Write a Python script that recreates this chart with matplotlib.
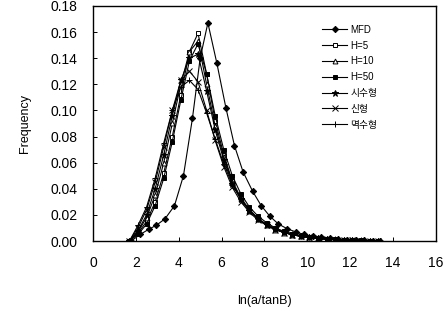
import matplotlib
matplotlib.use("Agg")
import matplotlib.pyplot as plt

plt.rcParams['font.family'] = ['Liberation Sans', 'Noto Sans CJK KR', 'DejaVu Sans']

# MFD has its own bin positions
x_mfd = [1.78, 2.2, 2.6, 2.95, 3.36, 3.8, 4.22, 4.64, 5.0, 5.36, 5.78, 6.2, 6.6, 7.0,
         7.45, 7.85, 8.25, 8.65, 9.05, 9.45, 9.85, 10.25, 10.65, 11.05, 11.45, 11.85,
         12.25, 12.65, 13.05, 13.4]
y_mfd = [0.0, 0.005, 0.009, 0.012, 0.017, 0.027, 0.050, 0.094, 0.140, 0.167, 0.136,
         0.102, 0.073, 0.053, 0.038, 0.027, 0.019, 0.013, 0.0095, 0.007, 0.005, 0.0037,
         0.0027, 0.002, 0.0015, 0.0011, 0.0008, 0.0006, 0.0004, 0.0003]

# shared bins for the other methods
x_bins = [1.7, 2.1, 2.5, 2.9, 3.3, 3.7, 4.1, 4.5, 4.9, 5.3, 5.7, 6.1, 6.5, 6.9, 7.3,
          7.7, 8.1, 8.5, 8.9, 9.3, 9.7, 10.1, 10.5, 10.9, 11.3, 11.7, 12.1, 12.5,
          12.9, 13.3]
y_h5 = [0.0, 0.006, 0.015, 0.030, 0.052, 0.080, 0.112, 0.145, 0.159, 0.128, 0.092,
        0.066, 0.046, 0.033, 0.024, 0.017, 0.012, 0.009, 0.0065, 0.005, 0.0037, 0.0028,
        0.002, 0.0015, 0.0011, 0.0008, 0.0006, 0.0004, 0.0003, 0.0002]
y_h10 = [0.0, 0.007, 0.018, 0.035, 0.060, 0.090, 0.120, 0.145, 0.153, 0.120, 0.088,
         0.064, 0.045, 0.032, 0.023, 0.017, 0.012, 0.0088, 0.0065, 0.0048, 0.0036,
         0.0027, 0.002, 0.0015, 0.0011, 0.0008, 0.0006, 0.0004, 0.0003, 0.0002]
y_h50 = [0.0, 0.005, 0.013, 0.027, 0.048, 0.076, 0.108, 0.138, 0.151, 0.128, 0.096,
         0.070, 0.050, 0.036, 0.026, 0.019, 0.014, 0.010, 0.0075, 0.0055, 0.004,
         0.003, 0.0022, 0.0016, 0.0012, 0.0009, 0.0007, 0.0005, 0.0004, 0.0003]
y_exp = [0.0, 0.008, 0.020, 0.040, 0.066, 0.096, 0.123, 0.140, 0.143, 0.115, 0.085,
         0.062, 0.044, 0.032, 0.023, 0.017, 0.012, 0.009, 0.0066, 0.0049, 0.0036,
         0.0027, 0.002, 0.0015, 0.0011, 0.0008, 0.0006, 0.0004, 0.0003, 0.0002]
y_lin = [0.0, 0.010, 0.024, 0.045, 0.072, 0.100, 0.123, 0.130, 0.122, 0.100, 0.077,
         0.057, 0.041, 0.030, 0.022, 0.016, 0.012, 0.0088, 0.0065, 0.0048, 0.0036,
         0.0027, 0.002, 0.0015, 0.0011, 0.0008, 0.0006, 0.0004, 0.0003, 0.0002]
y_pow = [0.0, 0.012, 0.026, 0.048, 0.075, 0.100, 0.118, 0.123, 0.116, 0.098, 0.078,
         0.059, 0.043, 0.032, 0.024, 0.017, 0.013, 0.0095, 0.007, 0.0052, 0.0039,
         0.0029, 0.0021, 0.0016, 0.0012, 0.0009, 0.0007, 0.0005, 0.0004, 0.0003]

labels = ['MFD', 'H=5', 'H=10', 'H=50', '시수형', '신형', '멱수형']

fig = plt.figure(figsize=(4.46, 3.11), dpi=100)
ax = fig.add_axes([0.2085, 0.225, 0.769, 0.756])

series = [
    (x_mfd, y_mfd, 'D', 'black', 3.2),
    (x_bins, y_h5, 's', 'white', 3.5),
    (x_bins, y_h10, '^', 'white', 3.5),
    (x_bins, y_h50, 's', 'black', 3.5),
    (x_bins, y_exp, '*', 'black', 5),
    (x_bins, y_lin, 'x', 'black', 4),
    (x_bins, y_pow, '+', 'black', 5),
]
for (xs, ys, mk, fc, ms), lab in zip(series, labels):
    ax.plot(xs, ys, color='black', lw=0.8, marker=mk, markersize=ms,
            markerfacecolor=fc, markeredgecolor='black', markeredgewidth=0.7,
            label=lab)

ax.set_xlim(0, 16)
ax.set_ylim(0, 0.18)
ax.set_xticks(range(0, 17, 2))
ax.set_yticks([i * 0.02 for i in range(10)])
ax.yaxis.set_major_formatter(matplotlib.ticker.FormatStrFormatter('%.2f'))
ax.tick_params(direction='in', length=3, width=0.7, labelsize=10, pad=11)
for s in ax.spines.values():
    s.set_linewidth(1.0)

ax.set_xlabel('ln(a/tanB)', fontsize=9, labelpad=18)
ax.set_ylabel('Frequency', fontsize=9, labelpad=14)

ax.legend(loc='upper left', bbox_to_anchor=(0.668, 0.92), frameon=False,
          fontsize=7, handlelength=2.6, handletextpad=0.3, labelspacing=0.6,
          borderpad=0, borderaxespad=0)

fig.savefig('out.png', dpi=100)
